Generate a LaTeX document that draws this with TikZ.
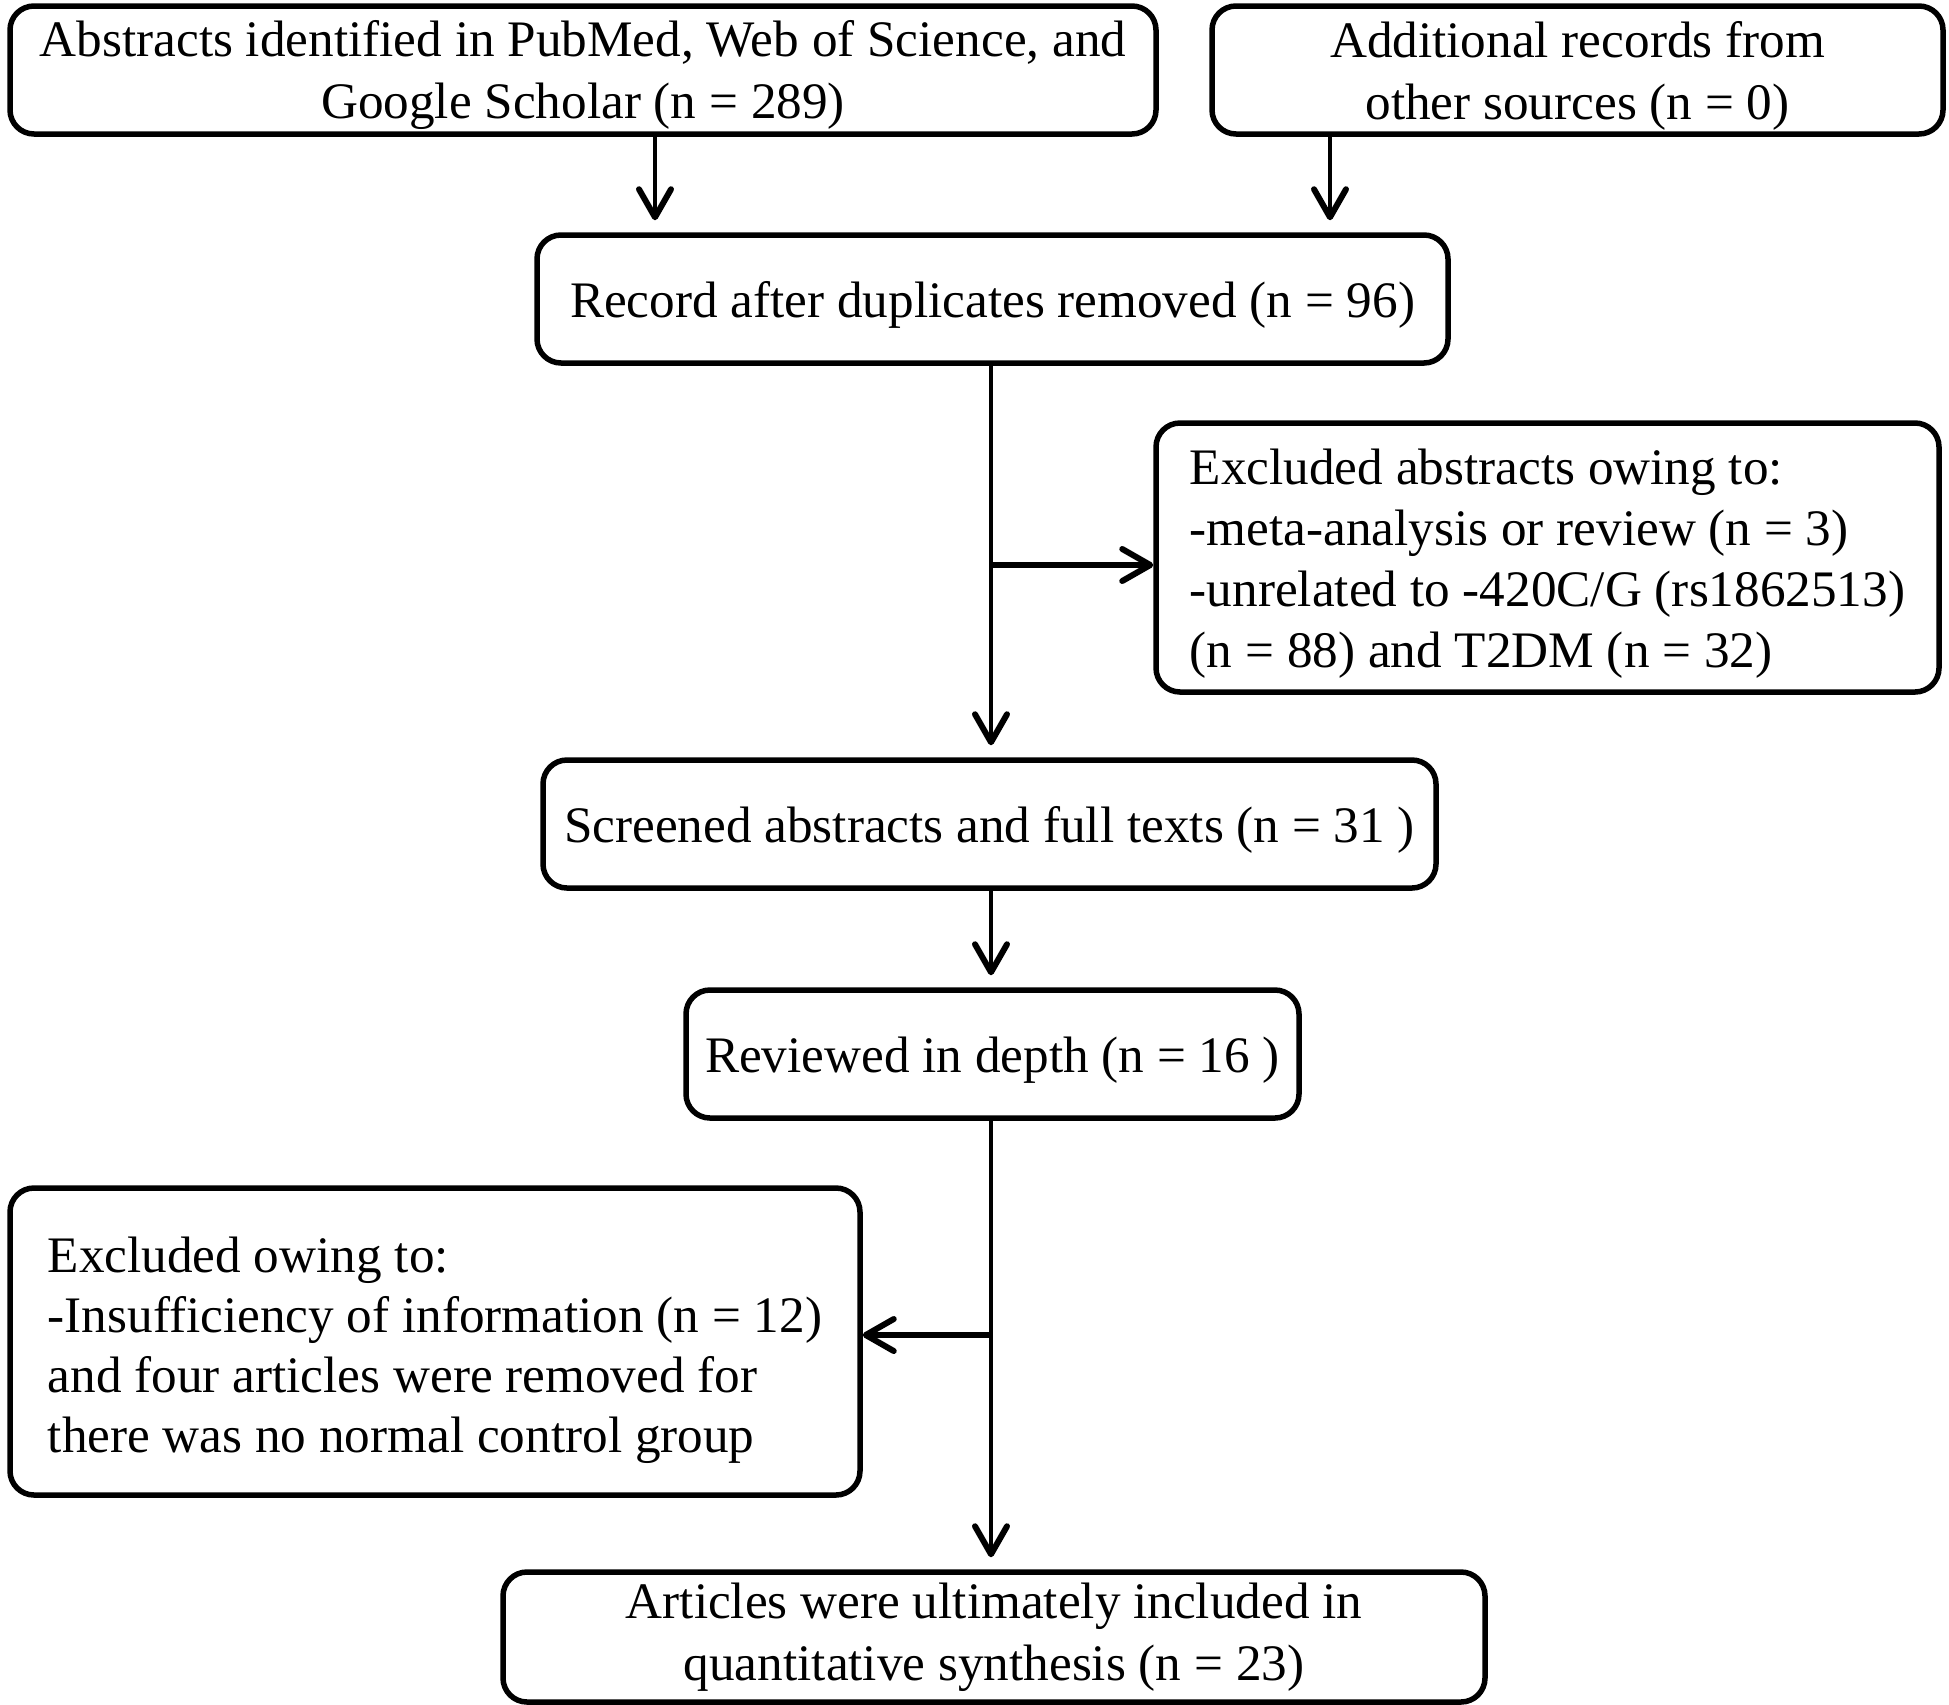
\documentclass[tikz,border=0pt]{standalone}
\usepackage{fontspec}
\setmainfont{Liberation Serif}
\usetikzlibrary{arrows.meta}
\newcommand{\firstline}[1][23.5pt]{\rule{0pt}{#1}}
\begin{document}
\begin{tikzpicture}[
		x=0.5pt, y=-0.5pt,
		block/.style={rectangle, rounded corners=12pt, draw=black, line width=2.75pt,
			inner sep=0pt, minimum height=64pt, align=center,
			font=\fontsize{25.6}{31}\selectfont},
		note/.style={block, align=left},
		flow/.style={line width=2pt, -{Straight Barb[length=14pt, width=16pt, line width=3pt, round]}, shorten >=6pt},
		side/.style={flow, line width=3pt, shorten >=0pt}
		]
	\useasboundingbox (0,0) rectangle (1949,1704);
	% sources
	\node [block, minimum width=573pt] (abs) at (583,70)
		{\firstline Abstracts identified in PubMed, Web of Science, and\\Google Scholar (n = 289)};
	\node [block, minimum width=365.5pt] (oth) at (1577.5,70)
		{\firstline Additional records from\\other sources (n = 0)};
	% screening
	\node [block, minimum width=455.5pt] (dup) at (992.5,299)
		{\firstline Record after duplicates removed (n = 96)};
	\node [note, minimum width=391.5pt, minimum height=134.5pt,
		font=\fontsize{25.6}{30.5}\selectfont] (exc1) at (1547.5,557.5)
		{\firstline Excluded abstracts owing to:\\-meta-analysis or review (n = 3)\\-unrelated to -420C/G (rs1862513)\\(n = 88) and T2DM (n = 32)};
	\node [block, minimum width=446.5pt] (scr) at (989.5,824)
		{\firstline Screened abstracts and full texts (n = 31 )};
	\node [block, minimum width=306.5pt] (rev) at (992.5,1054)
		{\firstline Reviewed in depth (n = 16 )};
	\node [note, minimum width=425pt, minimum height=153.5pt,
		font=\fontsize{25.6}{30}\selectfont] (exc2) at (435,1341.5)
		{\firstline[27pt]Excluded owing to:\\-Insufficiency of information (n = 12)\\and four articles were removed for\\there was no normal control group};
	\node [block, minimum width=491pt, minimum height=65pt] (inc) at (994,1637)
		{Articles were ultimately included in\\quantitative synthesis (n = 23)};
	% connectors
	\coordinate (a1) at (655,0);
	\coordinate (a2) at (1330,0);
	\coordinate (j1) at (991,565);
	\coordinate (j2) at (991,1335);
	\draw [flow] (abs.south -| a1) -- (dup.north -| a1);
	\draw [flow] (oth.south -| a2) -- (dup.north -| a2);
	\draw [flow] (dup.south -| j1) -- (scr.north -| j1);
	\draw [side] (j1) -- (exc1.west |- j1);
	\draw [flow] (scr.south -| j1) -- (rev.north -| j1);
	\draw [flow] (rev.south -| j1) -- (inc.north -| j1);
	\draw [side] (j2) -- (exc2.east |- j2);
\end{tikzpicture}
\end{document}
